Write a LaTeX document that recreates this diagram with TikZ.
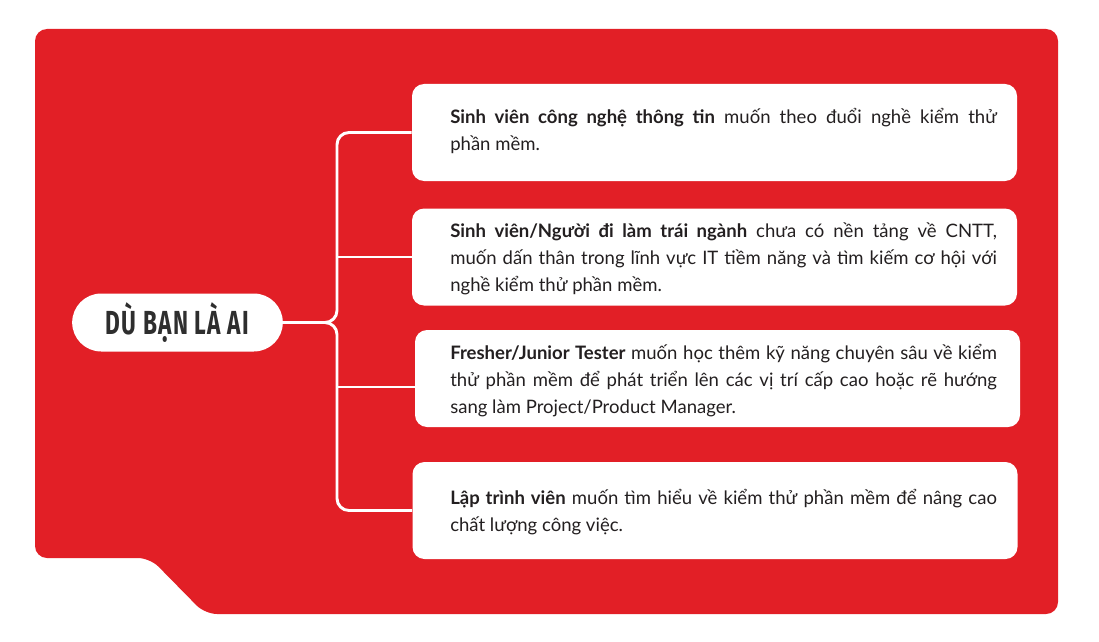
\documentclass[tikz,border=0pt]{standalone}
\usepackage{fontspec}
\setmainfont{Lato}
\newfontfamily\headfont[FakeStretch=0.68,LetterSpace=4]{Fira Sans}
\usetikzlibrary{positioning,calc,shapes.misc}
\definecolor{brand}{HTML}{E21F26}
\definecolor{ink}{HTML}{231F20}
\definecolor{dark}{HTML}{2E2E2E}

\begin{document}
\begin{tikzpicture}[x=0.75pt,y=-0.75pt,
  card/.style={fill=white,rounded corners=9pt,minimum width=453.75pt,
               minimum height=72.75pt,inner sep=0pt},
  copy/.style={anchor=west,inner sep=0pt,text width=410pt,align=justify,
               text=ink,font=\fontsize{13.9}{20.3}\selectfont},
  pill/.style={rounded rectangle,fill=white,minimum width=158pt,
               minimum height=43.5pt,inner sep=0pt,text=dark,
               font=\headfont\bfseries\fontsize{25}{25}\selectfont},
  branch/.style={draw=white,line width=2.2pt,rounded corners=9pt}]
\useasboundingbox (0,0) rectangle (1099,642);
% red panel with the notch at the bottom left
\fill[brand,rounded corners=9pt] (35,29) -- (1058,29) -- (1058,614) -- (205,614)
  -- (150,558) -- (35,558) -- cycle;

\node[pill] (who) at (177.5,322.5) {DÙ BẠN LÀ AI};

\node[card] (c1) at (714.5,132.5) {};
\node[card] (c2) at (714.5,257) {};
\node[card] (c3) at (717.5,378.5) {};
\node[card] (c4) at (715,510.5) {};

\node[copy] (t1) at (450,131) {\textbf{Sinh viên công nghệ thông tin} muốn theo đuổi nghề kiểm thử\linebreak phần mềm.};
\node[copy] (t2) at (450,258.5) {\textbf{Sinh viên/Người đi làm trái ngành} chưa có nền tảng về CNTT,\linebreak muốn dấn thân trong lĩnh vực IT tiềm năng và tìm kiếm cơ hội với\linebreak nghề kiểm thử phần mềm.};
\node[copy] (t3) at (450,380.5) {\textbf{Fresher/Junior Tester} muốn học thêm kỹ năng chuyên sâu về kiểm\linebreak thử phần mềm để phát triển lên các vị trí cấp cao hoặc rẽ hướng\linebreak sang làm Project/Product Manager.};
\node[copy] (t4) at (450,512) {\textbf{Lập trình viên} muốn tìm hiểu về kiểm thử phần mềm để nâng cao\linebreak chất lượng công việc.};

\coordinate (hub) at (337,322.5);
\coordinate (fork) at (337,387);
\draw[branch] (who.east) -- (hub) -- (hub |- c1.west) -- (c1.west);
\draw[branch] (who.east) -- (hub) -- (hub |- c4.west) -- (c4.west);
\draw[branch] (hub |- c2.west) -- (c2.west);
\draw[branch] (fork) -- (fork -| c3.west);
\end{tikzpicture}
\end{document}
